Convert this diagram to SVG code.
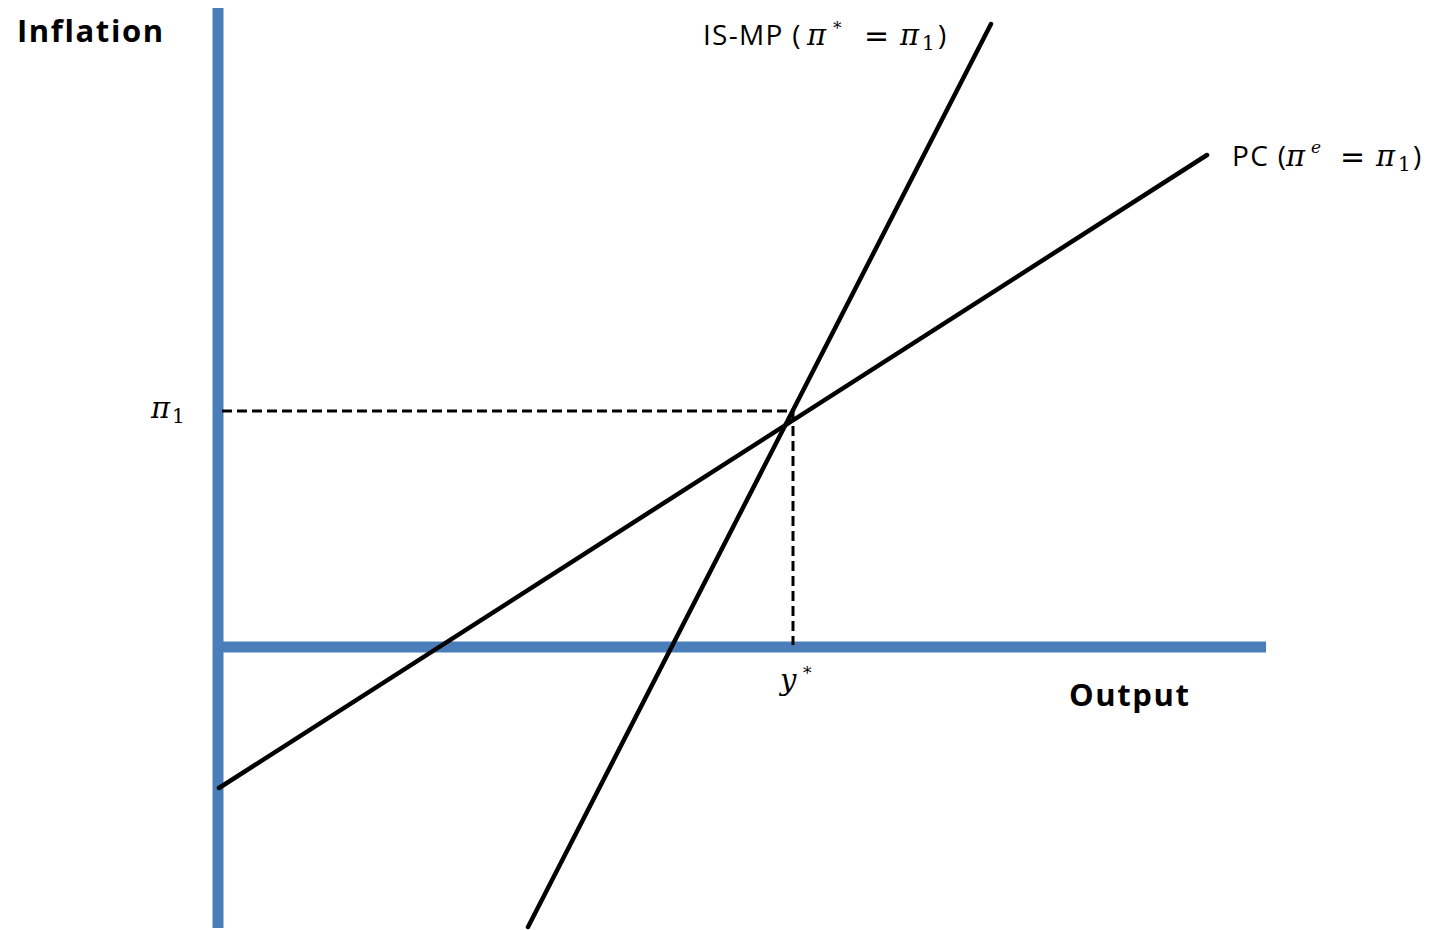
<svg xmlns="http://www.w3.org/2000/svg" width="1434" height="930" viewBox="0 0 1434 930">
<style>
.axis{stroke:#4a7ebb;stroke-width:11;fill:none}
.curve{stroke:#000;stroke-width:4.5;fill:none;stroke-linecap:round}
.dash{stroke:#000;stroke-width:3;fill:none;stroke-dasharray:10,5}
.lbl{font-family:"Open Sans","Liberation Sans",sans-serif;fill:#000;font-size:28px;letter-spacing:1.3px}
.ttl{font-family:"Open Sans","Liberation Sans",sans-serif;font-weight:bold;font-size:31px;letter-spacing:1.6px;fill:#000}
.m{font-family:"DejaVu Serif",serif;font-style:italic;font-size:29px;letter-spacing:0}
.n{font-family:"DejaVu Serif",serif;font-style:normal;letter-spacing:0}
.eq{font-family:"DejaVu Sans",sans-serif;font-size:30px;letter-spacing:0}
.sub{font-size:20px}
.sup{font-size:17px}
</style>
<rect width="1434" height="930" fill="#fff"/>
<g id="axes">
<line class="axis" x1="218" y1="8" x2="218" y2="928"/>
<line class="axis" x1="218" y1="647" x2="1266" y2="647" stroke-width="10"/>
</g>
<g id="connectors">
<line class="dash" x1="222" y1="411" x2="792" y2="411"/>
<line class="dash" x1="793" y1="411" x2="793" y2="645"/>
</g>
<g id="ismp">
<line class="curve" x1="528" y1="927" x2="991" y2="24"/>
<text class="lbl" y="45"><tspan x="703">IS-MP (</tspan><tspan x="807" class="m">π</tspan><tspan x="833" y="34" class="n sup">*</tspan><tspan x="864" y="46" class="eq">=</tspan><tspan x="900" y="45" class="m">π</tspan><tspan x="922" y="50" class="n sub">1</tspan><tspan x="938" y="45">)</tspan></text>
</g>
<g id="pc">
<line class="curve" x1="219" y1="788" x2="1207" y2="155"/>
<text class="lbl" y="166"><tspan x="1232">PC (</tspan><tspan x="1286" class="m">π</tspan><tspan x="1311" y="153" class="m sup">e</tspan><tspan x="1340" y="167" class="eq">=</tspan><tspan x="1376" y="166" class="m">π</tspan><tspan x="1398" y="171" class="n sub">1</tspan><tspan x="1413" y="166">)</tspan></text>
</g>
<g id="labels">
<text y="418"><tspan x="151" class="m">π</tspan><tspan x="172" y="423" class="n sub">1</tspan></text>
<text y="690"><tspan x="780" class="m">y</tspan><tspan x="803" y="679" class="n sup">*</tspan></text>
<text class="ttl" x="17" y="42">Inflation</text>
<text class="ttl" x="1069" y="706">Output</text>
</g>
</svg>
